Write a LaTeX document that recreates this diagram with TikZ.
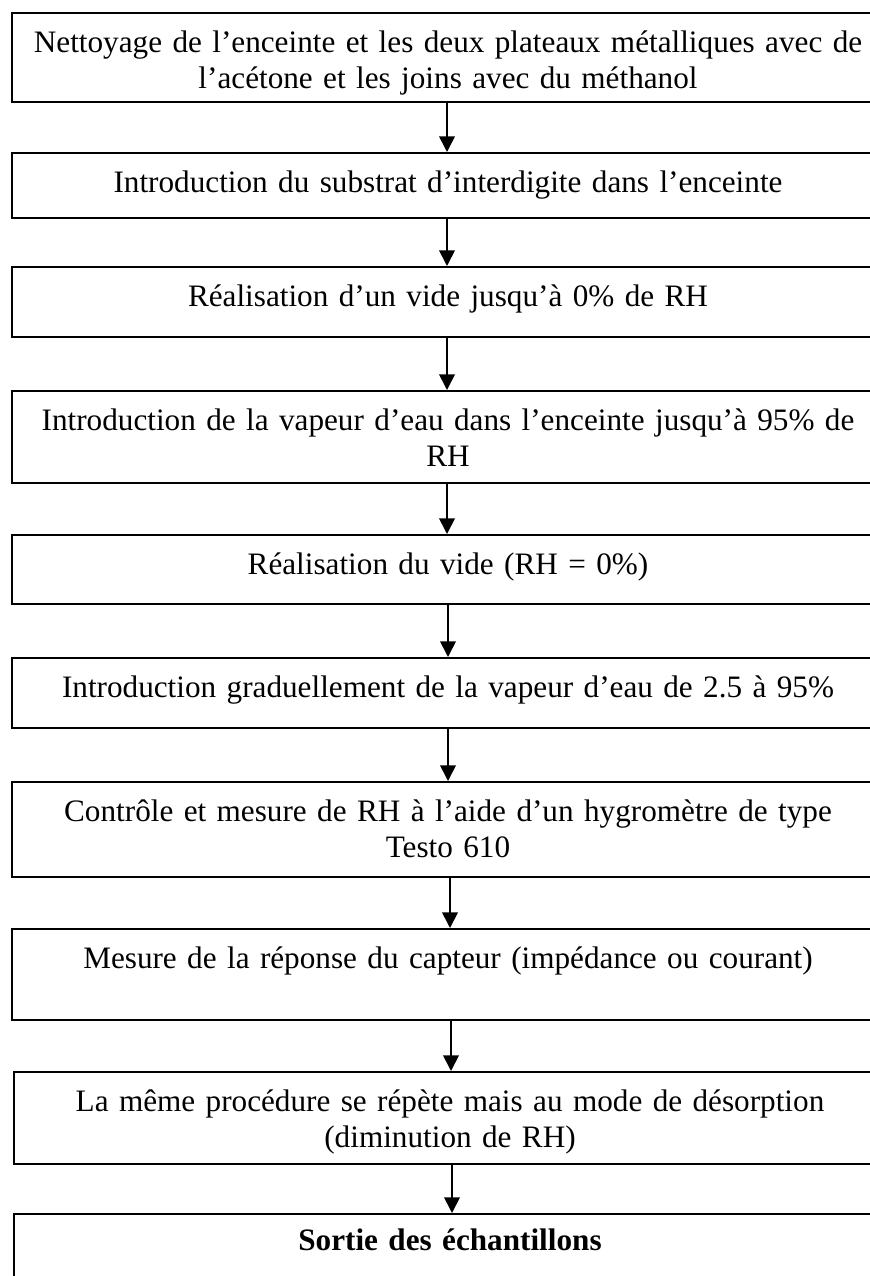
\documentclass[tikz,border=0pt]{standalone}
\usepackage{fontspec}
\setmainfont{Liberation Serif}
\usetikzlibrary{arrows.meta}
\newlength{\pxunit}
\setlength{\pxunit}{0.3846pt}
\newcommand{\widthstage}{872\pxunit}
\newcommand{\widthtext}{330pt}
\tikzset{
    stagebox/.style={anchor=north, draw, rectangle, line width=0.8pt, minimum width=\widthstage, inner sep=0pt},
    stagetext/.style={anchor=north, yshift=-15\pxunit, align=center, text width=\widthtext, inner sep=0pt,
        font=\fontsize{12}{13.85}\selectfont, execute at begin node=\strut},
    flow/.style={draw, -{Triangle[width=6pt, length=6pt]}, line width=0.65pt}
}
\begin{document}
\begin{tikzpicture}[x=\pxunit, y=-\pxunit]
        \useasboundingbox (0,0) rectangle (869,1276);

        \path
            (448,12) node[stagebox, minimum height=89\pxunit] (S1) {}
            (448,152) node[stagebox, minimum height=65\pxunit] (S2) {}
            (448,266) node[stagebox, minimum height=70\pxunit] (S3) {}
            (448,390) node[stagebox, minimum height=92\pxunit] (S4) {}
            (448,534) node[stagebox, minimum height=69\pxunit] (S5) {}
            (448,657) node[stagebox, minimum height=70\pxunit] (S6) {}
            (448,781) node[stagebox, minimum height=95\pxunit] (S7) {}
            (448,928) node[stagebox, minimum height=91\pxunit] (S8) {}
            (450,1071) node[stagebox, minimum height=92\pxunit] (S9) {}
            (450,1213) node[stagebox, minimum height=90\pxunit] (S10) {};

        \path
            (S1.north) node[stagetext] (S1-text) {Nettoyage de l'enceinte et les deux plateaux métalliques avec de\\ l'acétone et les joins avec du méthanol}
            (S2.north) node[stagetext] (S2-text) {Introduction du substrat d'interdigite dans l'enceinte}
            (S3.north) node[stagetext] (S3-text) {Réalisation d'un vide jusqu'à 0\% de RH}
            (S4.north) node[stagetext] (S4-text) {Introduction de la vapeur d'eau dans l'enceinte jusqu'à 95\% de\\ RH}
            (S5.north) node[stagetext] (S5-text) {Réalisation du vide (RH = 0\%)}
            (S6.north) node[stagetext] (S6-text) {Introduction graduellement de la vapeur d'eau de 2.5 à 95\%}
            (S7.north) node[stagetext] (S7-text) {Contrôle et mesure de RH à l'aide d'un hygromètre de type\\ Testo 610}
            (S8.north) node[stagetext] (S8-text) {Mesure de la réponse du capteur (impédance ou courant)}
            (S9.north) node[stagetext] (S9-text) {La même procédure se répète mais au mode de désorption\\ (diminution de RH)}
            (S10.north) node[stagetext, yshift=3\pxunit] (S10-text) {\textbf{Sortie des échantillons}};

        \path
          ([xshift=-1\pxunit]S1.south) edge[flow] ([xshift=-1\pxunit]S2.north)
          ([xshift=-1\pxunit]S2.south) edge[flow] ([xshift=-1\pxunit]S3.north)
          ([xshift=-1\pxunit]S3.south) edge[flow] ([xshift=-1\pxunit]S4.north)
          ([xshift=-1\pxunit]S4.south) edge[flow] ([xshift=-1\pxunit]S5.north)
          (S5.south) edge[flow] (S6.north)
          (S6.south) edge[flow] (S7.north)
          ([xshift=2\pxunit]S7.south) edge[flow] ([xshift=2\pxunit]S8.north)
          ([xshift=3\pxunit]S8.south) edge[flow] ([xshift=1\pxunit]S9.north)
          ([xshift=2\pxunit]S9.south) edge[flow] ([xshift=2\pxunit]S10.north);
    \end{tikzpicture}
\end{document}
